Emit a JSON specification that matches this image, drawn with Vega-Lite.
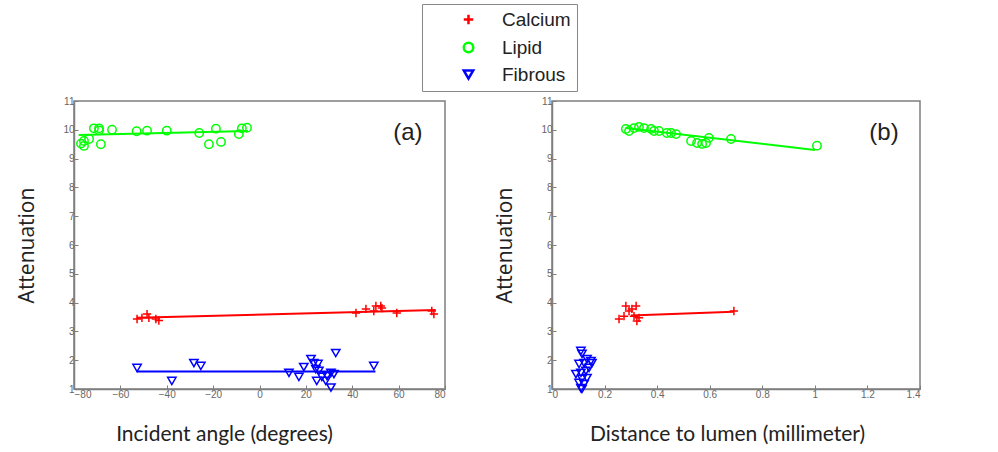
{
"$schema": "https://vega.github.io/schema/vega-lite/v6.json",
"background": "white",
"padding": {"left": 16, "top": 3, "right": 5, "bottom": 5},
"datasets": {
"ptsA": [
{"tissue":"Lipid","x":-77,"y":9.52},{"tissue":"Lipid","x":-75.7,"y":9.61},{"tissue":"Lipid","x":-75.7,"y":9.44},{"tissue":"Lipid","x":-73.5,"y":9.68},{"tissue":"Lipid","x":-71.4,"y":10.05},{"tissue":"Lipid","x":-69.2,"y":10.05},{"tissue":"Lipid","x":-69.2,"y":9.98},{"tissue":"Lipid","x":-68.4,"y":9.5},{"tissue":"Lipid","x":-63.6,"y":10.0},{"tissue":"Lipid","x":-53,"y":9.95},{"tissue":"Lipid","x":-48.5,"y":9.97},{"tissue":"Lipid","x":-40,"y":9.97},{"tissue":"Lipid","x":-26,"y":9.89},{"tissue":"Lipid","x":-21.8,"y":9.5},{"tissue":"Lipid","x":-18.8,"y":10.04},{"tissue":"Lipid","x":-16.6,"y":9.58},{"tissue":"Lipid","x":-8.9,"y":9.85},{"tissue":"Lipid","x":-7.6,"y":10.05},{"tissue":"Lipid","x":-5.4,"y":10.07},
{"tissue":"Calcium","x":-52.8,"y":3.43},{"tissue":"Calcium","x":-50.7,"y":3.47},{"tissue":"Calcium","x":-48.5,"y":3.6},{"tissue":"Calcium","x":-47.7,"y":3.47},{"tissue":"Calcium","x":-44.7,"y":3.43},{"tissue":"Calcium","x":-43.4,"y":3.38},{"tissue":"Calcium","x":41.6,"y":3.64},{"tissue":"Calcium","x":45.9,"y":3.78},{"tissue":"Calcium","x":49.3,"y":3.71},{"tissue":"Calcium","x":50.2,"y":3.88},{"tissue":"Calcium","x":52.3,"y":3.88},{"tissue":"Calcium","x":52.8,"y":3.81},{"tissue":"Calcium","x":59.2,"y":3.64},{"tissue":"Calcium","x":74.3,"y":3.71},{"tissue":"Calcium","x":75.2,"y":3.6},
{"tissue":"Fibrous","x":-52.8,"y":1.73},{"tissue":"Fibrous","x":-37.8,"y":1.28},{"tissue":"Fibrous","x":-28.3,"y":1.9},{"tissue":"Fibrous","x":-25.3,"y":1.8},{"tissue":"Fibrous","x":12.7,"y":1.56},{"tissue":"Fibrous","x":17.0,"y":1.42},{"tissue":"Fibrous","x":19.1,"y":1.76},{"tissue":"Fibrous","x":22.2,"y":2.04},{"tissue":"Fibrous","x":23.4,"y":1.9},{"tissue":"Fibrous","x":25.2,"y":1.87},{"tissue":"Fibrous","x":24.3,"y":1.69},{"tissue":"Fibrous","x":25.6,"y":1.63},{"tissue":"Fibrous","x":24.7,"y":1.28},{"tissue":"Fibrous","x":26.9,"y":1.42},{"tissue":"Fibrous","x":28.6,"y":1.28},{"tissue":"Fibrous","x":29.1,"y":1.45},{"tissue":"Fibrous","x":30.8,"y":1.56},{"tissue":"Fibrous","x":32.1,"y":1.52},{"tissue":"Fibrous","x":30.8,"y":1.05},{"tissue":"Fibrous","x":32.9,"y":2.25},{"tissue":"Fibrous","x":49.3,"y":1.8}
],
"fitA": [
{"tissue":"Lipid","x":-78,"y":9.82},{"tissue":"Lipid","x":-5,"y":9.96},
{"tissue":"Calcium","x":-53,"y":3.47},{"tissue":"Calcium","x":76,"y":3.74},
{"tissue":"Fibrous","x":-53,"y":1.61},{"tissue":"Fibrous","x":50,"y":1.61}
],
"ptsB": [
{"tissue":"Lipid","x":0.281,"y":10.03},{"tissue":"Lipid","x":0.293,"y":9.96},{"tissue":"Lipid","x":0.312,"y":10.06},{"tissue":"Lipid","x":0.331,"y":10.1},{"tissue":"Lipid","x":0.35,"y":10.06},{"tissue":"Lipid","x":0.377,"y":10.03},{"tissue":"Lipid","x":0.388,"y":9.96},{"tissue":"Lipid","x":0.407,"y":9.96},{"tissue":"Lipid","x":0.437,"y":9.89},{"tissue":"Lipid","x":0.453,"y":9.89},{"tissue":"Lipid","x":0.472,"y":9.85},{"tissue":"Lipid","x":0.529,"y":9.61},{"tissue":"Lipid","x":0.552,"y":9.54},{"tissue":"Lipid","x":0.571,"y":9.51},{"tissue":"Lipid","x":0.586,"y":9.54},{"tissue":"Lipid","x":0.597,"y":9.72},{"tissue":"Lipid","x":0.681,"y":9.68},{"tissue":"Lipid","x":1.008,"y":9.45},
{"tissue":"Calcium","x":0.255,"y":3.43},{"tissue":"Calcium","x":0.274,"y":3.53},{"tissue":"Calcium","x":0.281,"y":3.88},{"tissue":"Calcium","x":0.293,"y":3.71},{"tissue":"Calcium","x":0.304,"y":3.78},{"tissue":"Calcium","x":0.32,"y":3.88},{"tissue":"Calcium","x":0.312,"y":3.53},{"tissue":"Calcium","x":0.323,"y":3.36},{"tissue":"Calcium","x":0.331,"y":3.47},{"tissue":"Calcium","x":0.692,"y":3.71},
{"tissue":"Fibrous","x":0.11,"y":2.32},{"tissue":"Fibrous","x":0.114,"y":2.22},{"tissue":"Fibrous","x":0.103,"y":1.87},{"tissue":"Fibrous","x":0.122,"y":1.9},{"tissue":"Fibrous","x":0.133,"y":2.04},{"tissue":"Fibrous","x":0.148,"y":1.97},{"tissue":"Fibrous","x":0.152,"y":1.9},{"tissue":"Fibrous","x":0.091,"y":1.52},{"tissue":"Fibrous","x":0.11,"y":1.56},{"tissue":"Fibrous","x":0.129,"y":1.63},{"tissue":"Fibrous","x":0.114,"y":1.35},{"tissue":"Fibrous","x":0.103,"y":1.21},{"tissue":"Fibrous","x":0.122,"y":1.17},{"tissue":"Fibrous","x":0.11,"y":1.03},{"tissue":"Fibrous","x":0.133,"y":1.38},{"tissue":"Fibrous","x":0.141,"y":1.73},{"tissue":"Fibrous","x":0.114,"y":1.0}
],
"fitB": [
{"tissue":"Lipid","x":0.28,"y":10.06},{"tissue":"Lipid","x":1.0,"y":9.3},
{"tissue":"Calcium","x":0.3,"y":3.55},{"tissue":"Calcium","x":0.69,"y":3.68}
]
},
"spacing": 107,
"bounds": "flush",
"hconcat": [
{
"width": 371, "height": 288,
"layer": [
{"data": {"name": "fitA"}, "mark": {"type": "line", "strokeWidth": 2},
 "encoding": {
  "x": {"field": "x", "type": "quantitative", "scale": {"domain": [-80, 80], "nice": false}, "axis": {"values": [-80,-60,-40,-20,0,20,40,60,80], "title": "Incident angle (degrees)", "titleX": 150}},
  "y": {"field": "y", "type": "quantitative", "scale": {"domain": [1, 11], "nice": false, "zero": false}, "axis": {"values": [1,2,3,4,5,6,7,8,9,10,11], "title": "Attenuation"}},
  "color": {"field": "tissue", "type": "nominal", "title": null, "scale": {"domain": ["Calcium","Lipid","Fibrous"], "range": ["#ff0000","#00ff00","#0000ff"]}}
 }},
{"data": {"name": "ptsA"}, "mark": {"type": "point", "filled": false, "strokeWidth": 1.5, "size": 70, "opacity": 1},
 "encoding": {
  "x": {"field": "x", "type": "quantitative", "scale": {"domain": [-80, 80], "nice": false}, "axis": {"values": [-80,-60,-40,-20,0,20,40,60,80], "title": "Incident angle (degrees)", "titleX": 150}},
  "y": {"field": "y", "type": "quantitative", "scale": {"domain": [1, 11], "nice": false, "zero": false}, "axis": {"values": [1,2,3,4,5,6,7,8,9,10,11], "title": "Attenuation"}},
  "color": {"field": "tissue", "type": "nominal", "title": null},
  "shape": {"field": "tissue", "type": "nominal", "title": null, "scale": {"domain": ["Calcium","Lipid","Fibrous"], "range": ["M-1,0L1,0M0,-1L0,1", "circle", "triangle-down"]}}
 }},
{"data": {"values": [{}]}, "mark": {"type": "text", "fontSize": 24, "font": "Liberation Sans", "color": "#222"},
 "encoding": {
  "x": {"datum": 64, "type": "quantitative", "scale": {"domain": [-80, 80], "nice": false}, "axis": {"values": [-80,-60,-40,-20,0,20,40,60,80], "title": "Incident angle (degrees)", "titleX": 150}},
  "y": {"datum": 9.9, "type": "quantitative", "scale": {"domain": [1, 11], "nice": false, "zero": false}, "axis": {"values": [1,2,3,4,5,6,7,8,9,10,11], "title": "Attenuation"}},
  "text": {"value": "(a)"}}}
]
},
{
"width": 368, "height": 288,
"layer": [
{"data": {"name": "fitB"}, "mark": {"type": "line", "strokeWidth": 2},
 "encoding": {
  "x": {"field": "x", "type": "quantitative", "scale": {"domain": [0, 1.4], "nice": false}, "axis": {"values": [0,0.2,0.4,0.6,0.8,1,1.2,1.4], "format": "~g", "title": "Distance to lumen (millimeter)", "titleX": 175}},
  "y": {"field": "y", "type": "quantitative", "scale": {"domain": [1, 11], "nice": false, "zero": false}, "axis": {"values": [1,2,3,4,5,6,7,8,9,10,11], "title": "Attenuation"}},
  "color": {"field": "tissue", "type": "nominal", "title": null}
 }},
{"data": {"name": "ptsB"}, "mark": {"type": "point", "filled": false, "strokeWidth": 1.5, "size": 70, "opacity": 1},
 "encoding": {
  "x": {"field": "x", "type": "quantitative", "scale": {"domain": [0, 1.4], "nice": false}, "axis": {"values": [0,0.2,0.4,0.6,0.8,1,1.2,1.4], "format": "~g", "title": "Distance to lumen (millimeter)", "titleX": 175}},
  "y": {"field": "y", "type": "quantitative", "scale": {"domain": [1, 11], "nice": false, "zero": false}, "axis": {"values": [1,2,3,4,5,6,7,8,9,10,11], "title": "Attenuation"}},
  "color": {"field": "tissue", "type": "nominal", "title": null},
  "shape": {"field": "tissue", "type": "nominal", "title": null}
 }},
{"data": {"values": [{}]}, "mark": {"type": "text", "fontSize": 24, "font": "Liberation Sans", "color": "#222"},
 "encoding": {
  "x": {"datum": 1.263, "type": "quantitative", "scale": {"domain": [0, 1.4], "nice": false}, "axis": {"values": [0,0.2,0.4,0.6,0.8,1,1.2,1.4], "format": "~g", "title": "Distance to lumen (millimeter)", "titleX": 175}},
  "y": {"datum": 9.9, "type": "quantitative", "scale": {"domain": [1, 11], "nice": false, "zero": false}, "axis": {"values": [1,2,3,4,5,6,7,8,9,10,11], "title": "Attenuation"}},
  "text": {"value": "(b)"}}}
]
}
],
"config": {
 "view": {"stroke": "#7f7f7f", "strokeWidth": 1.5},
 "axis": {"grid": false, "labelOverlap": false, "domainColor": "#7f7f7f", "domainWidth": 1.5, "tickColor": "#7f7f7f", "tickSize": -4, "labelPadding": 4, "labelFont": "Liberation Sans", "labelFontSize": 10, "labelColor": "#666", "titleColor": "#222", "titleFontWeight": "normal"},
 "axisX": {"titleFont": "Lato", "titleFontSize": 21, "titlePadding": 24},
 "axisY": {"titleFont": "Open Sans", "titleFontSize": 21, "titlePadding": 25},
 "legend": {"orient": "none", "legendX": 348, "legendY": -97, "direction": "vertical", "strokeColor": "#888", "fillColor": "white", "padding": 6, "labelFontSize": 19, "labelFont": "Liberation Sans", "labelColor": "#222", "labelLimit": 300, "symbolSize": 90, "symbolStrokeWidth": 2.5, "rowPadding": 7, "symbolOffset": 31, "labelOffset": 24}
}
}
